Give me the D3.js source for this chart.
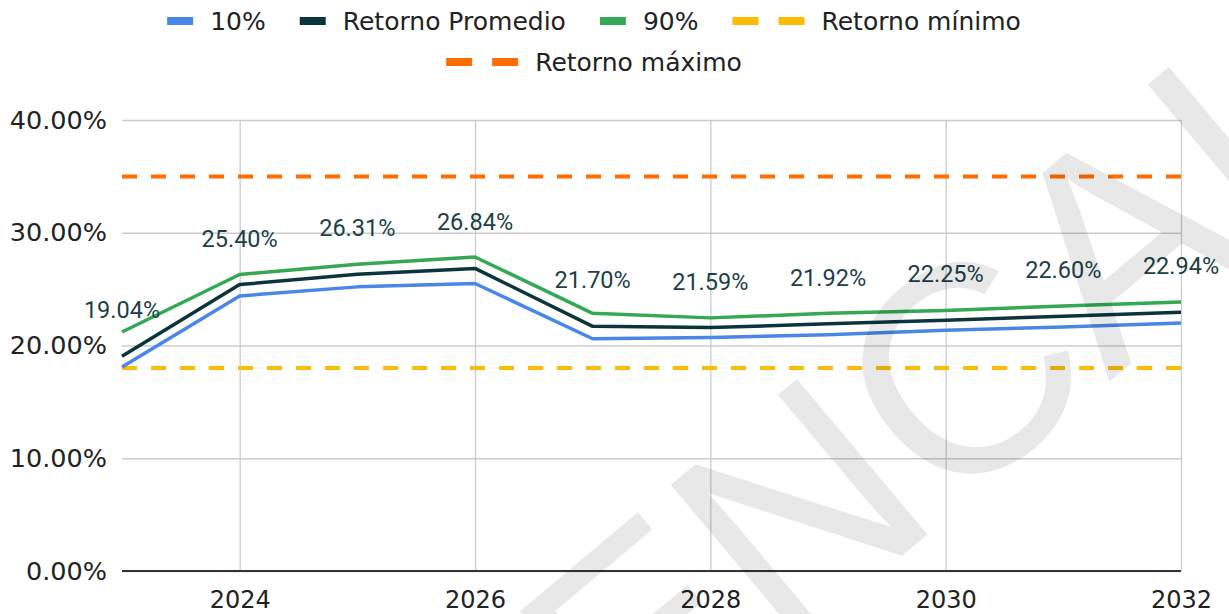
<!DOCTYPE html>
<html>
<head>
<meta charset="utf-8">
<script src="https://cdn.jsdelivr.net/npm/d3@7"></script>
<style>
  body { margin: 0; background: #fff; }
  svg { display: block; }
</style>
</head>
<body>
<svg id="chart"></svg>
<script>
// datos
const years = [2023, 2024, 2025, 2026, 2027, 2028, 2029, 2030, 2031, 2032];
const p10 = [18.1, 24.4, 25.2, 25.5, 20.6, 20.7, 20.95, 21.35, 21.65, 22.0];
const promedio = [19.04, 25.40, 26.31, 26.84, 21.70, 21.59, 21.92, 22.25, 22.60, 22.94];
const p90 = [21.2, 26.3, 27.2, 27.85, 22.85, 22.45, 22.85, 23.1, 23.5, 23.85];
const retornoMin = 18;
const retornoMax = 35;
const yTicks = [0, 10, 20, 30, 40];
const xTicks = [2024, 2026, 2028, 2030, 2032];

const W = 1229, H = 614;
const svg = d3.select("#chart").attr("width", W).attr("height", H);

// escalas
const x = d3.scaleLinear().domain([2023, 2032]).range([122, 1181]);
const y = d3.scaleLinear().domain([0, 40]).range([571, 120]);

const axisFont = "'DejaVu Sans', sans-serif";

// eje Y + líneas de cuadrícula
const gy = svg.append("g")
    .attr("transform", `translate(${x.range()[0]},0)`)
    .call(d3.axisLeft(y).tickValues(yTicks).tickSize(-(x.range()[1] - x.range()[0]))
        .tickPadding(15).tickFormat(d => d.toFixed(2) + "%"));
gy.select(".domain").remove();
gy.selectAll("line").attr("stroke", "#cccccc").attr("stroke-width", 1.3);
gy.selectAll("text").style("font-family", axisFont).style("font-size", "25.5px").attr("fill", "#222");

// eje X + cuadrícula vertical
const gx = svg.append("g")
    .attr("transform", `translate(0,${y(0)})`)
    .call(d3.axisBottom(x).tickValues(xTicks).tickSize(-(y(0) - y(40)))
        .tickPadding(20).tickFormat(d3.format("d")));
gx.select(".domain").remove();
gx.selectAll("line").attr("stroke", "#cccccc").attr("stroke-width", 1.3);
gx.selectAll("text").style("font-family", axisFont).style("font-size", "24px").attr("fill", "#222");

// línea base
svg.append("line")
    .attr("x1", x.range()[0]).attr("x2", x.range()[1])
    .attr("y1", y(0)).attr("y2", y(0))
    .attr("stroke", "#333").attr("stroke-width", 2);

// retornos mínimo y máximo (discontinuas)
const refs = [
    { v: retornoMin, color: "#fbbc04" },
    { v: retornoMax, color: "#ff6d01" }
];
svg.selectAll(".ref")
    .data(refs)
    .enter().append("line")
    .attr("class", "ref")
    .attr("x1", x(years[0])).attr("x2", x(years[years.length - 1]))
    .attr("y1", d => y(d.v)).attr("y2", d => y(d.v))
    .attr("stroke", d => d.color)
    .attr("stroke-width", 4)
    .attr("stroke-dasharray", "15,14");

// series
const series = [
    { name: "10%", values: p10, color: "#4a86e8" },
    { name: "Retorno Promedio", values: promedio, color: "#0c343d" },
    { name: "90%", values: p90, color: "#34a853" }
];
const line = d3.line()
    .x((d, i) => x(years[i]))
    .y(d => y(d));

series.forEach(s => {
    svg.append("path")
        .datum(s.values)
        .attr("fill", "none")
        .attr("stroke", s.color)
        .attr("stroke-width", 3.5)
        .attr("stroke-linejoin", "round")
        .attr("d", line);
});

// etiquetas del retorno promedio
svg.selectAll(".lbl")
    .data(promedio)
    .enter().append("text")
    .attr("class", "lbl")
    .attr("x", (d, i) => x(years[i]))
    .attr("y", d => y(d) - 38)
    .attr("text-anchor", "middle")
    .style("font-family", "Roboto, sans-serif")
    .style("font-size", "23.5px")
    .attr("fill", "#1c3f47")
    .text(d => d.toFixed(2) + "%");

// leyenda
const legendRows = [
    [
        { name: "10%", color: "#4a86e8", dashed: false },
        { name: "Retorno Promedio", color: "#0c343d", dashed: false },
        { name: "90%", color: "#34a853", dashed: false },
        { name: "Retorno mínimo", color: "#fbbc04", dashed: true }
    ],
    [
        { name: "Retorno máximo", color: "#ff6d01", dashed: true }
    ]
];
const legendCenter = 594;
const rowY = [21, 62];
legendRows.forEach((row, r) => {
    const g = svg.append("g");
    const items = row.map(it => {
        const ig = g.append("g");
        const sw = it.dashed ? 72 : 26;
        if (it.dashed) {
            [0, 46].forEach(dx => {
                ig.append("rect").attr("x", dx).attr("y", -4).attr("width", 26).attr("height", 8).attr("fill", it.color);
            });
        } else {
            ig.append("rect").attr("x", 0).attr("y", -4).attr("width", sw).attr("height", 8).attr("fill", it.color);
        }
        const t = ig.append("text")
            .attr("x", sw + 17).attr("y", 0).attr("dy", "0.36em")
            .style("font-family", axisFont).style("font-size", "25px")
            .attr("fill", "#222").text(it.name);
        return { g: ig, w: sw + 17 + t.node().getComputedTextLength() };
    });
    const gap = 34;
    const total = d3.sum(items, d => d.w) + gap * (items.length - 1);
    let cx = legendCenter - total / 2;
    items.forEach(it => {
        it.g.attr("transform", `translate(${cx},${rowY[r]})`);
        cx += it.w + gap;
    });
});

// marca de agua
const wm = svg.append("g")
    .attr("transform", "translate(1109,382) rotate(-40)")
    .style("font-family", "'Liberation Sans', Arial, sans-serif")
    .style("font-size", "295px")
    .attr("fill", "#000")
    .attr("fill-opacity", 0.09);
wm.append("text").attr("text-anchor", "end").text("ENC");
wm.append("text").attr("text-anchor", "start").text("AL");
</script>
</body>
</html>
